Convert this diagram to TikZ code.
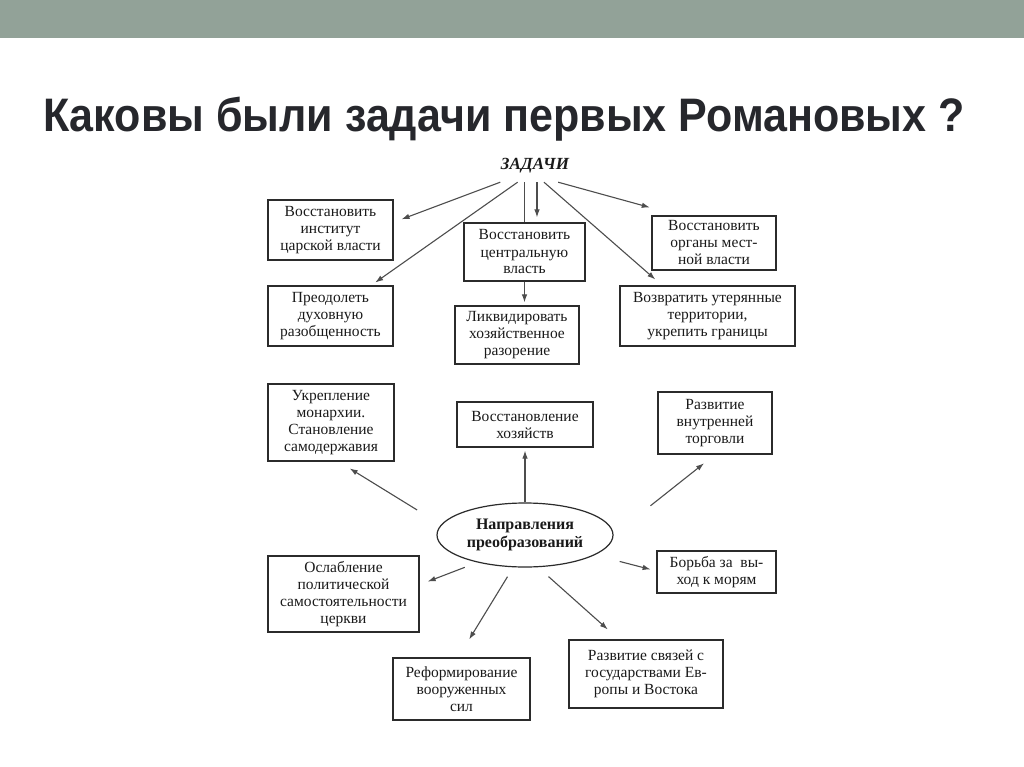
\documentclass[tikz,border=0pt]{standalone}
\usepackage{fontspec}
\setmainfont{Liberation Serif}
\newfontfamily\titlefont[FakeStretch=0.915]{Liberation Sans}
\usetikzlibrary{arrows.meta,shapes.geometric}
\definecolor{barcol}{HTML}{92A298}
\definecolor{titlecol}{HTML}{26272C}
\definecolor{txtcol}{HTML}{1A1A1A}
\definecolor{boxcol}{HTML}{2B2B2B}
\definecolor{linecol}{HTML}{4D4D4D}
\begin{document}
\begin{tikzpicture}[x=1pt,y=-1pt,
  box/.style={draw=boxcol, line width=1.2pt, align=center, inner sep=2pt,
    text=txtcol, font=\fontsize{15.5}{17}\selectfont},
  ell/.style={ellipse, draw=boxcol, line width=1.2pt, align=center, inner sep=0pt,
    text=txtcol, font=\fontsize{16}{17.5}\selectfont\bfseries},
  arr/.style={draw=linecol, line width=1.1pt, -{Latex[length=8pt,width=5.5pt]}},
  ln/.style={draw=linecol, line width=1.1pt},
  ttl/.style={text=titlecol, inner sep=0pt, font=\titlefont\fontsize{47}{50}\selectfont\bfseries}
]
\fill[white] (0,0) rectangle (1024,767);
\useasboundingbox (0,0) rectangle (1024,767);
\fill[barcol] (0,0) rectangle (1024,38);
\node[ttl, anchor=base west] (T) at (43,132) {Каковы были задачи первых Романовых ?};

\node[text=txtcol, inner sep=0pt, minimum width=74pt, minimum height=32pt,
  font=\fontsize{17}{18}\selectfont\bfseries\itshape] (Z) at (535,166) {ЗАДАЧИ};

\node[box, minimum width=125pt, minimum height=60pt] (b1) at (330.5,230) {Восстановить\\институт\\царской власти};
\node[box, minimum width=121pt, minimum height=58pt] (b2) at (524.5,252) {Восстановить\\центральную\\власть};
\node[box, minimum width=124pt, minimum height=54pt] (b3) at (714,243) {Восстановить\\органы мест-\\ной власти};
\node[box, minimum width=125pt, minimum height=60pt] (b4) at (330.5,316) {Преодолеть\\духовную\\разобщенность};
\node[box, minimum width=124pt, minimum height=58pt] (b5) at (517,335) {Ликвидировать\\хозяйственное\\разорение};
\node[box, minimum width=175pt, minimum height=60pt] (b6) at (707.5,316) {Возвратить утерянные\\территории,\\укрепить границы};

\node[box, minimum width=126pt, minimum height=77pt] (b7) at (331,422.5) {Укрепление\\монархии.\\Становление\\самодержавия};
\node[box, minimum width=136pt, minimum height=45pt] (b8) at (525,424.5) {Восстановление\\хозяйств};
\node[box, minimum width=114pt, minimum height=62pt] (b9) at (715,423) {Развитие\\внутренней\\торговли};

\node[ell, minimum width=176pt, minimum height=64pt] (E) at (525,535) {Направления\\преобразований};

\node[box, minimum width=151pt, minimum height=76pt] (b11) at (343.5,594) {Ослабление\\политической\\самостоятельности\\церкви};
\node[box, minimum width=119pt, minimum height=42pt] (b12) at (716.5,572) {Борьба за\ \ вы-\\ход к морям};
\node[box, minimum width=137pt, minimum height=62pt] (b13) at (461.5,689) {Реформирование\\вооруженных\\сил};
\node[box, minimum width=154pt, minimum height=68pt] (b14) at (646,674) {Развитие связей с\\государствами Ев-\\ропы и Востока};

% connectors from ZADACHI
\draw[arr, shorten >=8.5pt] (Z.205) -- (b1.7);
\draw[arr, shorten >=5pt] (Z.223) -- (b4.37);
\draw[ln] (Z.238) -- (Z.238 |- b2.north);
\draw[arr, shorten >=5pt] (Z.277) -- (Z.277 |- b2.north);
\draw[arr, shorten >=9pt] (Z.299) -- (b6.146);
\draw[arr, shorten >=30pt] (Z.325) -- (b3.142);
\draw[arr, shorten >=3pt] (b2.south) -- (b2.south |- b5.north);

% connectors from the ellipse
\draw[arr, shorten <=28pt, shorten >=13pt] (E.173) -- (b7.281);
\draw[arr, shorten >=3pt] (E.north) -- (E.north |- b8.south);
\draw[arr, shorten <=47pt, shorten >=14pt] (E.east) -- (b9.south);
\draw[arr, shorten <=13.5pt, shorten >=8.6pt] (E.210) -- (b11.7);
\draw[arr, shorten <=11pt, shorten >=21pt] (E.250) -- (b13.96);
\draw[arr, shorten <=14pt, shorten >=15pt] (E.292) -- (b14.128);
\draw[arr, shorten <=25.6pt, shorten >=6pt] (E.344) -- (b12.179);
\end{tikzpicture}
\end{document}
